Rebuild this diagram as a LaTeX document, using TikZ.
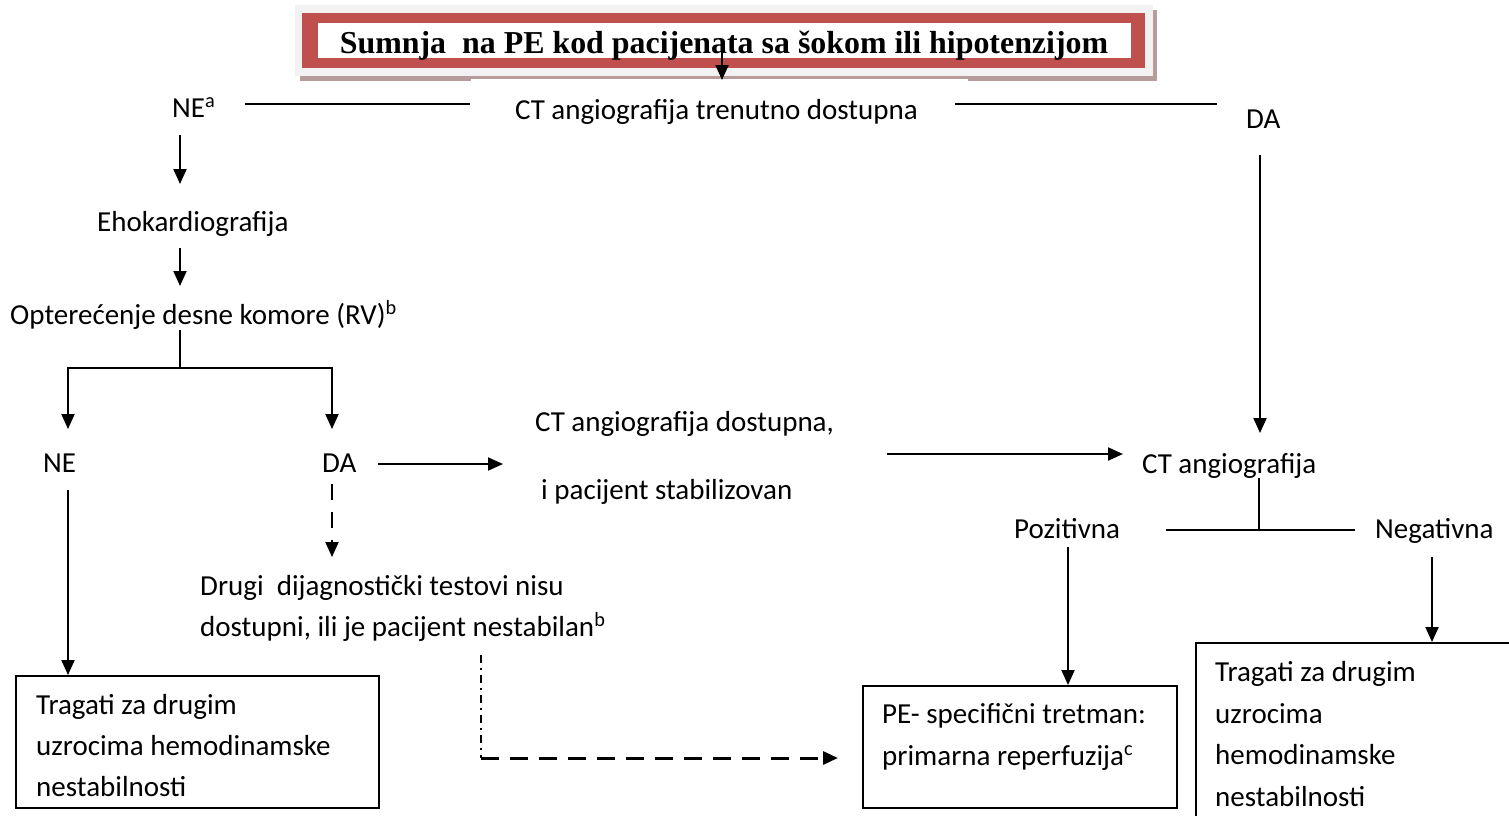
\documentclass[tikz,border=0pt]{standalone}
\usepackage{fontspec}
\setmainfont{Carlito}
\newfontfamily\titlefont{Liberation Serif}
\usetikzlibrary{arrows.meta}
\definecolor{framered}{HTML}{C0504D}
\definecolor{framegray}{HTML}{F2F2F2}
\definecolor{frameshadow}{HTML}{B79C9C}
\begin{document}
\begin{tikzpicture}[x=1pt,y=-1pt,
  lbl/.style={anchor=base west, inner sep=0pt, font=\fontsize{29}{35}\selectfont},
  ln/.style={line width=2pt},
  arr/.style={line width=2pt, -{Triangle[length=15pt,width=13pt]}},
  dasharr/.style={arr, dash pattern=on 16pt off 12pt},
  dashdot/.style={line width=1.5pt, dash pattern=on 8pt off 5pt on 2pt off 5pt},
  longdash/.style={line width=3pt, dash pattern=on 18pt off 11pt, -{Triangle[length=15pt,width=13pt]}},
  box/.style={draw, line width=2pt, anchor=north west, inner sep=0pt}]
\useasboundingbox (0,0) rectangle (1509,815);
\fill[white] (0,0) rectangle (1509,815);

% title banner: shadow, grey frame, red border, white field
\fill[frameshadow] (300,10) rectangle (1157,81);
\fill[framegray] (295,5) rectangle (1153,76);
\fill[framered] (302,13) rectangle (1145,68);
\fill[white] (318,23) rectangle (1131,58);
\node[anchor=base, inner sep=0pt, font=\titlefont\bfseries\fontsize{31.9}{36}\selectfont] (title) at (724,53) {Sumnja\ \ na PE kod pacijenata sa šokom ili hipotenzijom};

% first decision row
\fill[white] (471,79) rectangle (968,140);
\node[lbl] (ctnow) at (515,119) {CT angiografija trenutno dostupna};
\node[lbl] (neA) at (172,117) {NE\textsuperscript{a}};
\node[lbl] (daR) at (1246,128) {DA};
\coordinate (tstart) at (722,48);
\coordinate (ctTop) at (722,80);
\draw[arr] (tstart) -- (ctTop);
\coordinate (hl1) at (245,104);
\coordinate (hl2) at (470,104);
\coordinate (hr1) at (955,104);
\coordinate (hr2) at (1217,104);
\draw[ln] (hl1) -- (hl2);
\draw[ln] (hr1) -- (hr2);

% left branch: echocardiography
\node[lbl] (echo) at (97,231) {Ehokardiografija};
\node[lbl] (rv) at (10,324) {Opterećenje desne komore (RV)\textsuperscript{b}};
\draw[arr] (180,135) -- (180,184);
\draw[arr] (180,248) -- (180,286);

\node[lbl] (neL) at (43,472) {NE};
\node[lbl] (daL) at (322,472) {DA};
\coordinate (split) at (180,368);
\draw[ln] (180,330) -- (split);
\draw[arr] (split) -| (68,429);
\draw[arr] (split) -| (332,429);

% RV overload present
\node[lbl] (ctav1) at (535,431) {CT angiografija dostupna,};
\node[lbl] (ctav2) at (541,499) {i pacijent stabilizovan};
\draw[arr] (378,464) -- (503,464);
\draw[dasharr] (332,484) -- (332,557);
\node[lbl] (oth1) at (200,595) {Drugi\ \ dijagnostički testovi nisu};
\node[lbl] (oth2) at (200,636) {dostupni, ili je pacijent nestabilan\textsuperscript{b}};

% left box
\node[box, minimum width=363pt, minimum height=132pt] (boxL) at (15,675) {};
\node[lbl] at (36,714) {Tragati za drugim};
\node[lbl] at (36,755) {uzrocima hemodinamske};
\node[lbl] at (36,796) {nestabilnosti};
\draw[arr] (68,490) -- (boxL.north west -| 68,0);

% right branch: CT angiography
\node[lbl] (cta) at (1142,473) {CT angiografija};
\draw[arr] (887,454) -- (1123,454);
\draw[arr] (1260,155) -- (1260,433);
\node[lbl] (pos) at (1014,538) {Pozitivna};
\node[lbl] (neg) at (1375,538) {Negativna};
\draw[ln] (1259,478) -- (1259,530);
\draw[ln] (1166,530) -- (1355,530);

% treatment box
\node[box, minimum width=314pt, minimum height=122pt] (boxM) at (862,685) {};
\node[lbl] at (882,723) {PE- specifični tretman:};
\node[lbl] at (882,765) {primarna reperfuzija\textsuperscript{c}};
\draw[arr] (1068,547) -- (boxM.north west -| 1068,0);

% right box (runs past the page edge)
\node[box, minimum width=330pt, minimum height=190pt] (boxR) at (1195,642) {};
\node[lbl] at (1215,681) {Tragati za drugim};
\node[lbl] at (1215,723) {uzrocima};
\node[lbl] at (1215,764) {hemodinamske};
\node[lbl] at (1215,806) {nestabilnosti};
\draw[arr] (1432,557) -- (boxR.north west -| 1432,0);

% unstable patient path to treatment
\coordinate (corner) at (481,758);
\coordinate (dashEnd) at (838,758);
\draw[dashdot] (481,655) -- (corner);
\draw[longdash] (corner) -- (dashEnd);
\end{tikzpicture}
\end{document}
